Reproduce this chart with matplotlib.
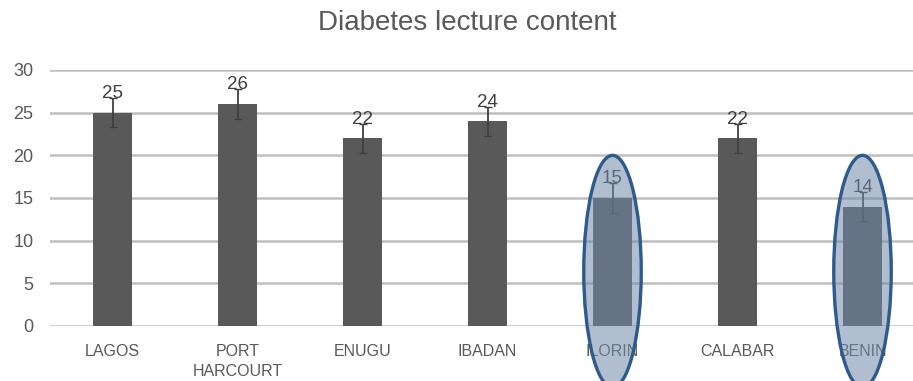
import matplotlib
matplotlib.use("Agg")
import matplotlib.pyplot as plt
from matplotlib.patches import Ellipse
import numpy as np

# Chart data
cities = ['LAGOS', 'PORT\nHARCOURT', 'ENUGU', 'IBADAN', 'ILORIN', 'CALABAR', 'BENIN']
scores = [25, 26, 22, 24, 15, 22, 14]
errors = [1.7, 1.8, 1.7, 1.7, 1.8, 1.7, 1.7]
highlighted = ['ILORIN', 'BENIN']

plt.rcParams['font.family'] = ['Liberation Sans', 'DejaVu Sans']
text_color = '#595959'

fig = plt.figure(figsize=(9.13, 3.81), dpi=100)
ax = fig.add_axes([50 / 913, 55 / 381, 863 / 913, 256 / 381])

x_pos = np.arange(len(cities))

# Bars with error bars
ax.bar(x_pos, scores, width=0.31, color='#595959', zorder=2)
ax.errorbar(x_pos, scores, yerr=errors, fmt='none', ecolor='#404040',
            elinewidth=1.3, capsize=3, capthick=1.0, zorder=3)

# Value labels
for x, v in zip(x_pos, scores):
    ax.text(x, v + 1.25, str(v), ha='center', va='bottom',
            fontsize=13.5, color='#404040', zorder=4)

# Highlight ovals
for name in highlighted:
    i = cities.index(name)
    oval = Ellipse((i, 6.4), width=0.46, height=27.2, facecolor='#6f8aa8',
                   alpha=0.55, edgecolor='none', clip_on=False, zorder=5)
    ax.add_patch(oval)
    ring = Ellipse((i, 6.4), width=0.46, height=27.2, facecolor='none',
                   edgecolor='#2e5a8c', linewidth=2.4, clip_on=False, zorder=6)
    ax.add_patch(ring)

ax.set_xlim(-0.5, 6.404)
ax.set_ylim(0, 30)
ax.set_yticks(range(0, 31, 5))
ax.set_xticks(x_pos)
ax.set_xticklabels(cities, fontsize=11.5, color=text_color, linespacing=1.45)
ax.tick_params(axis='y', labelsize=13, labelcolor=text_color, length=0, pad=12)
ax.tick_params(axis='x', length=0, pad=13)

# Grid
ax.grid(axis='y', color='#bfbfbf', linewidth=1.8, zorder=0)
ax.set_axisbelow(True)
for side in ['top', 'right', 'left', 'bottom']:
    ax.spines[side].set_visible(False)

fig.suptitle('Diabetes lecture content', fontsize=20, color=text_color,
             x=467 / 913, y=1 - 10 / 381, va='top')

fig.savefig('out.png', dpi=100)
